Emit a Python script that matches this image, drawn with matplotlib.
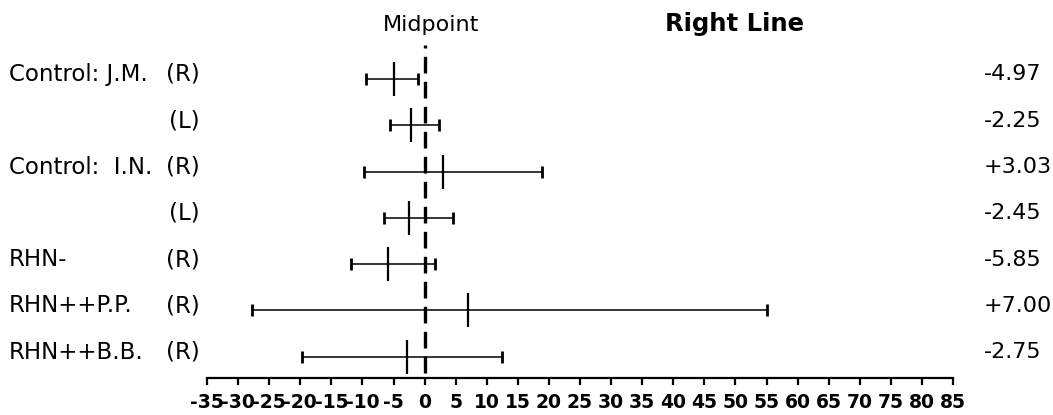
import matplotlib
matplotlib.use("Agg")
import matplotlib.pyplot as plt

plt.rcParams['font.family'] = ['DejaVu Sans']
plt.rcParams['axes.unicode_minus'] = False
plt.rcParams['lines.scale_dashes'] = False

# Subjects (top to bottom)
names = ["Control: J.M.", "", "Control:  I.N.", "", "RHN-", "RHN++P.P.", "RHN++B.B."]
sides = ["(R)", "(L)", "(R)", "(L)", "(R)", "(R)", "(R)"]

# Mean bisection deviation and its range for each subject
means = [-4.97, -2.25, 3.03, -2.45, -5.85, 7.00, -2.75]
lows = [-9.5, -5.6, -9.7, -6.5, -11.9, -27.7, -19.7]
highs = [-1.0, 2.3, 18.9, 4.5, 1.6, 55.0, 12.4]
mean_labels = ["-4.97", "-2.25", "+3.03", "-2.45", "-5.85", "+7.00", "-2.75"]

ticks = list(range(-35, 90, 5))

fig = plt.figure(figsize=(10.53, 4.15), dpi=100)
ax = fig.add_axes([207 / 1053, 37 / 415, 746 / 1053, 378 / 415])

n = len(means)
ys = [n - 1 - i for i in range(n)]

xerr = [[m - lo for m, lo in zip(means, lows)],
        [hi - m for m, hi in zip(means, highs)]]
ax.errorbar(means, ys, xerr=xerr, fmt='none', ecolor='black',
            elinewidth=1.1, capsize=4.5, capthick=2.0)
ax.plot(means, ys, linestyle='none', marker='|', markersize=24,
        markeredgewidth=1.6, color='black')

# Midpoint reference line
ax.plot([0, 0], [-0.35, 6.73], color='black', linewidth=2.4,
        dashes=(12, 6), zorder=0)

ax.set_xlim(-35, 85)
ax.set_ylim(-0.46, 7.71)
ax.set_xticks(ticks)
ax.set_xticklabels([str(t) for t in ticks], fontsize=13.5, fontweight='bold')
ax.tick_params(axis='x', direction='out', length=5, width=1.6, pad=6)
ax.set_yticks([])
for side in ['top', 'right', 'left']:
    ax.spines[side].set_visible(False)
ax.spines['bottom'].set_linewidth(1.6)

for y, name, side, lab in zip(ys, names, sides, mean_labels):
    ty = y + 0.1
    if name:
        ax.text(-66.9, ty, name, fontsize=16.5, ha='left', va='center')
    ax.text(-36.2, ty, side, fontsize=16.5, ha='right', va='center')
    ax.text(90.0, ty, lab, fontsize=16, ha='left', va='center')

ax.text(1.0, 7.04, "Midpoint", fontsize=16, ha='center', va='baseline')
ax.text(49.8, 7.04, "Right Line", fontsize=17.5, fontweight='bold',
        ha='center', va='baseline')

fig.savefig("out.png", dpi=100)
